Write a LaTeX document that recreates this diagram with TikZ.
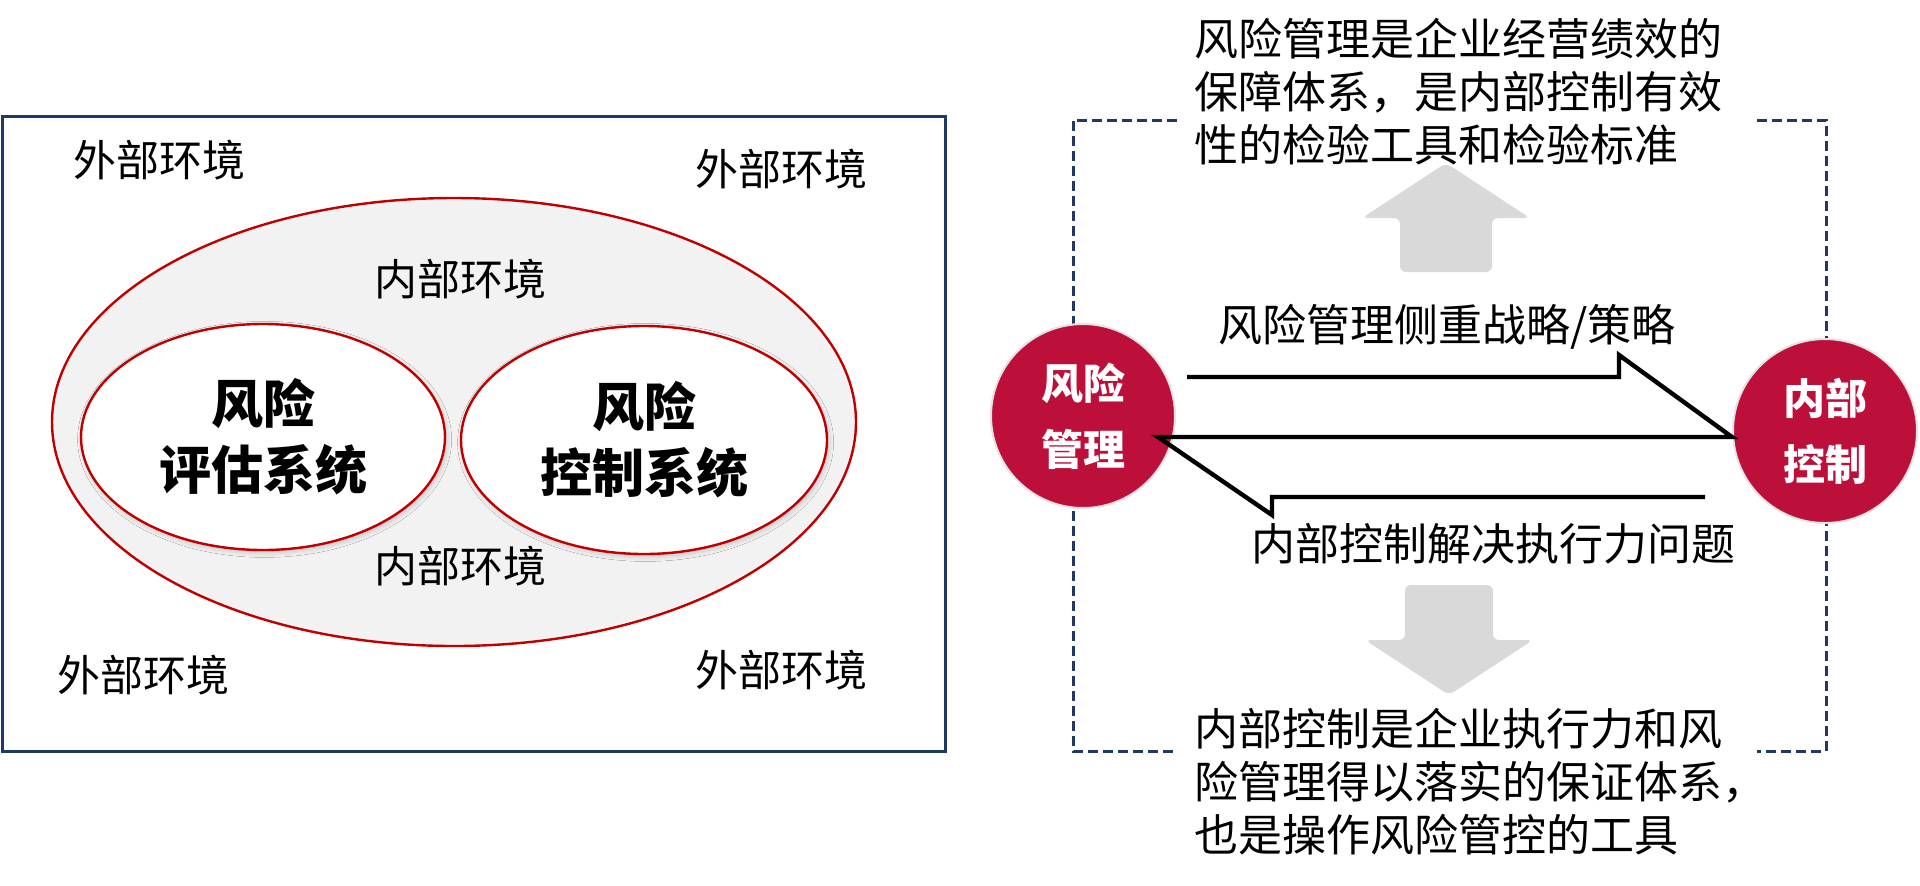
\documentclass[tikz,border=0pt]{standalone}
\usepackage{fontspec}
\newfontfamily\cjk{Noto Sans CJK SC}
\usetikzlibrary{shapes.geometric,shadows.blur}
\definecolor{navy}{HTML}{1F3864}
\definecolor{ered}{HTML}{C00000}
\definecolor{crim}{HTML}{BC0F3A}
\definecolor{egray}{HTML}{F2F2F2}
\definecolor{agray}{HTML}{D9D9D9}
\definecolor{cborder}{HTML}{E3E3E3}
\begin{document}
\begin{tikzpicture}[x=0.5pt,y=-0.5pt,
  envtext/.style={font=\cjk\fontsize{21.5pt}{26pt}\selectfont, inner sep=0pt},
  systext/.style={font=\cjk\bfseries\fontsize{26pt}{33pt}\selectfont, align=center},
  outerell/.style={ellipse, draw=ered, line width=1.2pt, fill=egray, inner sep=0pt},
  innerell/.style={ellipse, draw=ered, line width=1.2pt, fill=white, inner sep=0pt,
     blur shadow={shadow xshift=0.8pt, shadow yshift=-1.2pt, shadow blur radius=2.5pt, shadow opacity=22}},
  frame/.style={draw=navy, line width=1.5pt},
  dashframe/.style={draw=navy, line width=1.5pt, dash pattern=on 5pt off 2.5pt},
  bigcirc/.style={circle, fill=crim, draw=cborder, line width=1pt, minimum size=92pt, inner sep=0pt,
     text=white, align=center, font=\cjk\bfseries\fontsize{21pt}{33pt}\selectfont},
  blockarrow/.style={draw=black, line width=2.2pt, line join=miter},
  grayarrow/.style={fill=agray, rounded corners=3pt},
  desctext/.style={font=\cjk\fontsize{22pt}{26.5pt}\selectfont, inner sep=0pt, align=left},
  labeltext/.style={font=\cjk\fontsize{22pt}{26.5pt}\selectfont, inner sep=0pt}
]
\useasboundingbox (0,0) rectangle (1920,885);

% ---------- left panel ----------
\draw[frame] (2,116) rectangle (945,751);
\node[outerell, minimum width=402pt, minimum height=224pt] (outer) at (454,422) {};
\node[innerell, minimum width=182pt, minimum height=113pt] (evalsys) at (263,437) {};
\node[innerell, minimum width=183pt, minimum height=114pt] (ctrlsys) at (644,440) {};
\node[systext] (evaltxt) at (evalsys.center) {风险\\评估系统};
\node[systext] (ctrltxt) at (ctrlsys.center) {风险\\控制系统};

\node[envtext] (inTop) at (460,279) {内部环境};
\node[envtext] (inBot) at (460,566) {内部环境};
\node[envtext] (exTL) at (159,160) {外部环境};
\node[envtext] (exTR) at (781,169) {外部环境};
\node[envtext] (exBL) at (143,675) {外部环境};
\node[envtext] (exBR) at (781,670) {外部环境};

% ---------- right panel ----------
\coordinate (dTL1) at (1177,120);
\coordinate (dTR1) at (1757,120);
\coordinate (dBL1) at (1177,751);
\coordinate (dBR1) at (1757,751);
\draw[dashframe] (dTL1) -- (1073,120) -- (1073,751) -- (dBL1);
\draw[dashframe] (dTR1) -- (1826,120) -- (1826,751) -- (dBR1);

% gray arrows
\fill[grayarrow] (1400,272) -- (1400,218) -- (1362,218) -- (1446,163) -- (1530,218) -- (1492,218) -- (1492,272) -- cycle;
\fill[grayarrow] (1405,585) -- (1493,585) -- (1493,640) -- (1533,640) -- (1449,695) -- (1365,640) -- (1405,640) -- cycle;

\node[desctext, anchor=west] (topdesc) at (1194,92)
  {风险管理是企业经营绩效的\\保障体系，是内部控制有效\\性的检验工具和检验标准};
\node[desctext, anchor=west] (botdesc) at (1194,782)
  {内部控制是企业执行力和风\\险管理得以落实的保证体系，\\也是操作风险管控的工具};

\node[bigcirc] (rm) at (1083,416) {风险\\管理};
\node[bigcirc] (ic) at (1825,431) {内部\\控制};

\coordinate (lt) at (1158,437);
\coordinate (rt) at (ic.west |- lt);
\draw[blockarrow] (1187,377) -- (1619,377) -- (1619,355) -- (rt) -- (lt)
   -- (1272,515) -- (1272,497) -- (1705,497);

\node[labeltext] (lblTop) at (1447,327) {风险管理侧重战略/策略};
\node[labeltext] (lblBot) at (1493,544) {内部控制解决执行力问题};
\end{tikzpicture}
\end{document}
